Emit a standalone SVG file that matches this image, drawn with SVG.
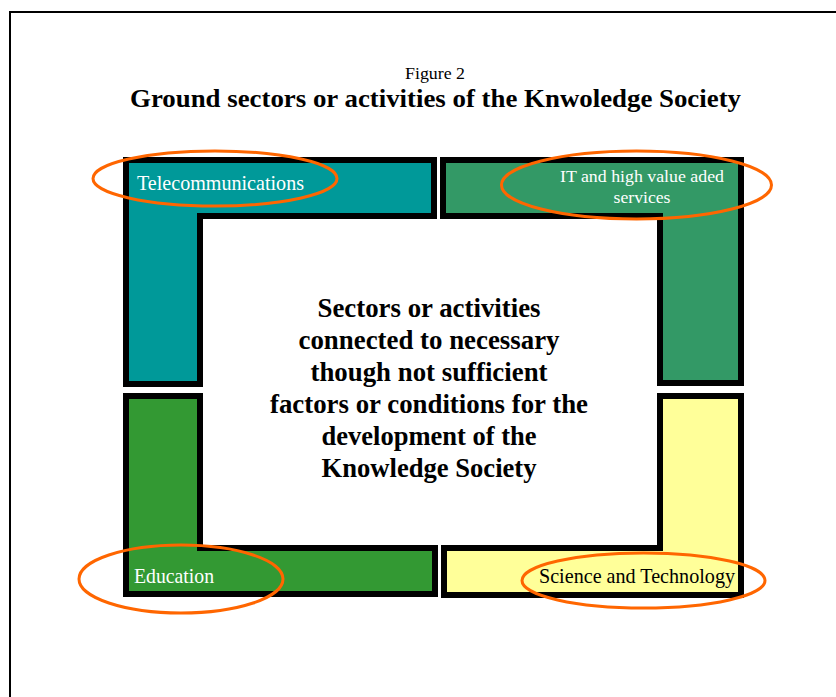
<svg xmlns="http://www.w3.org/2000/svg" width="836" height="697" viewBox="0 0 836 697">
  <style>
    .frame { fill: none; stroke: #000; stroke-width: 2; }
    .sector { stroke: #000; stroke-width: 6; stroke-linejoin: miter; }
    .ring { fill: none; stroke: #FF6600; stroke-width: 3; }
    text { font-family: 'Liberation Serif', 'Times New Roman', Times, serif; }
    .label { font-size: 21px; }
    .light { fill: #FFFFFF; }
    .dark { fill: #000000; }
    .core { font-size: 28px; font-weight: bold; text-anchor: middle; fill: #000; }
  </style>

  <rect x="0" y="0" width="836" height="697" fill="#FFFFFF"/>
  <!-- page frame -->
  <path class="frame" d="M10,697 V12 H836"/>

  <!-- heading -->
  <text x="435" y="79" font-size="17" text-anchor="middle" textLength="60" lengthAdjust="spacingAndGlyphs">Figure 2</text>
  <text x="435.5" y="107" font-size="26" font-weight="bold" text-anchor="middle" textLength="611" lengthAdjust="spacingAndGlyphs">Ground sectors or activities of the Knwoledge Society</text>

  <!-- four L-shaped sectors around the central field -->
  <g id="telecommunications">
    <polygon class="sector" fill="#009999" points="126,160 434,160 434,216 200,216 200,384 126,384"/>
    <text class="label light" x="137" y="190" textLength="167" lengthAdjust="spacingAndGlyphs">Telecommunications</text>
  </g>
  <g id="it-services">
    <polygon class="sector" fill="#339966" points="443,160 741,160 741,383 660,383 660,216 443,216"/>
    <text class="light" font-size="17" text-anchor="middle" x="642" y="182" textLength="164" lengthAdjust="spacingAndGlyphs">IT and high value aded</text>
    <text class="light" font-size="17" text-anchor="middle" x="642" y="203" textLength="57" lengthAdjust="spacingAndGlyphs">services</text>
  </g>
  <g id="education">
    <polygon class="sector" fill="#339933" points="126,396 200,396 200,548 435,548 435,594 126,594"/>
    <text class="label light" x="134" y="583" textLength="80" lengthAdjust="spacingAndGlyphs">Education</text>
  </g>
  <g id="science-technology">
    <polygon class="sector" fill="#FFFF99" points="660,396 741,396 741,595 444,595 444,548 660,548"/>
    <text class="label dark" x="539" y="583" textLength="196" lengthAdjust="spacingAndGlyphs">Science and Technology</text>
  </g>

  <!-- central statement -->
  <g id="center">
    <text class="core" x="429" y="317" textLength="223" lengthAdjust="spacingAndGlyphs">Sectors or activities</text>
    <text class="core" x="429" y="349" textLength="261" lengthAdjust="spacingAndGlyphs">connected to necessary</text>
    <text class="core" x="429" y="381" textLength="237" lengthAdjust="spacingAndGlyphs">though not sufficient</text>
    <text class="core" x="429" y="413" textLength="318" lengthAdjust="spacingAndGlyphs">factors or conditions for the</text>
    <text class="core" x="429" y="445" textLength="215" lengthAdjust="spacingAndGlyphs">development of the</text>
    <text class="core" x="429" y="477" textLength="215" lengthAdjust="spacingAndGlyphs">Knowledge Society</text>
  </g>

  <!-- highlight rings over the sector labels -->
  <g id="connectors">
    <ellipse class="ring" cx="215" cy="178.5" rx="122" ry="27.5"/>
    <ellipse class="ring" cx="636.5" cy="185" rx="135" ry="34"/>
    <ellipse class="ring" cx="181" cy="579" rx="102" ry="34"/>
    <ellipse class="ring" cx="643.5" cy="580.5" rx="121.5" ry="27.5"/>
  </g>
</svg>
